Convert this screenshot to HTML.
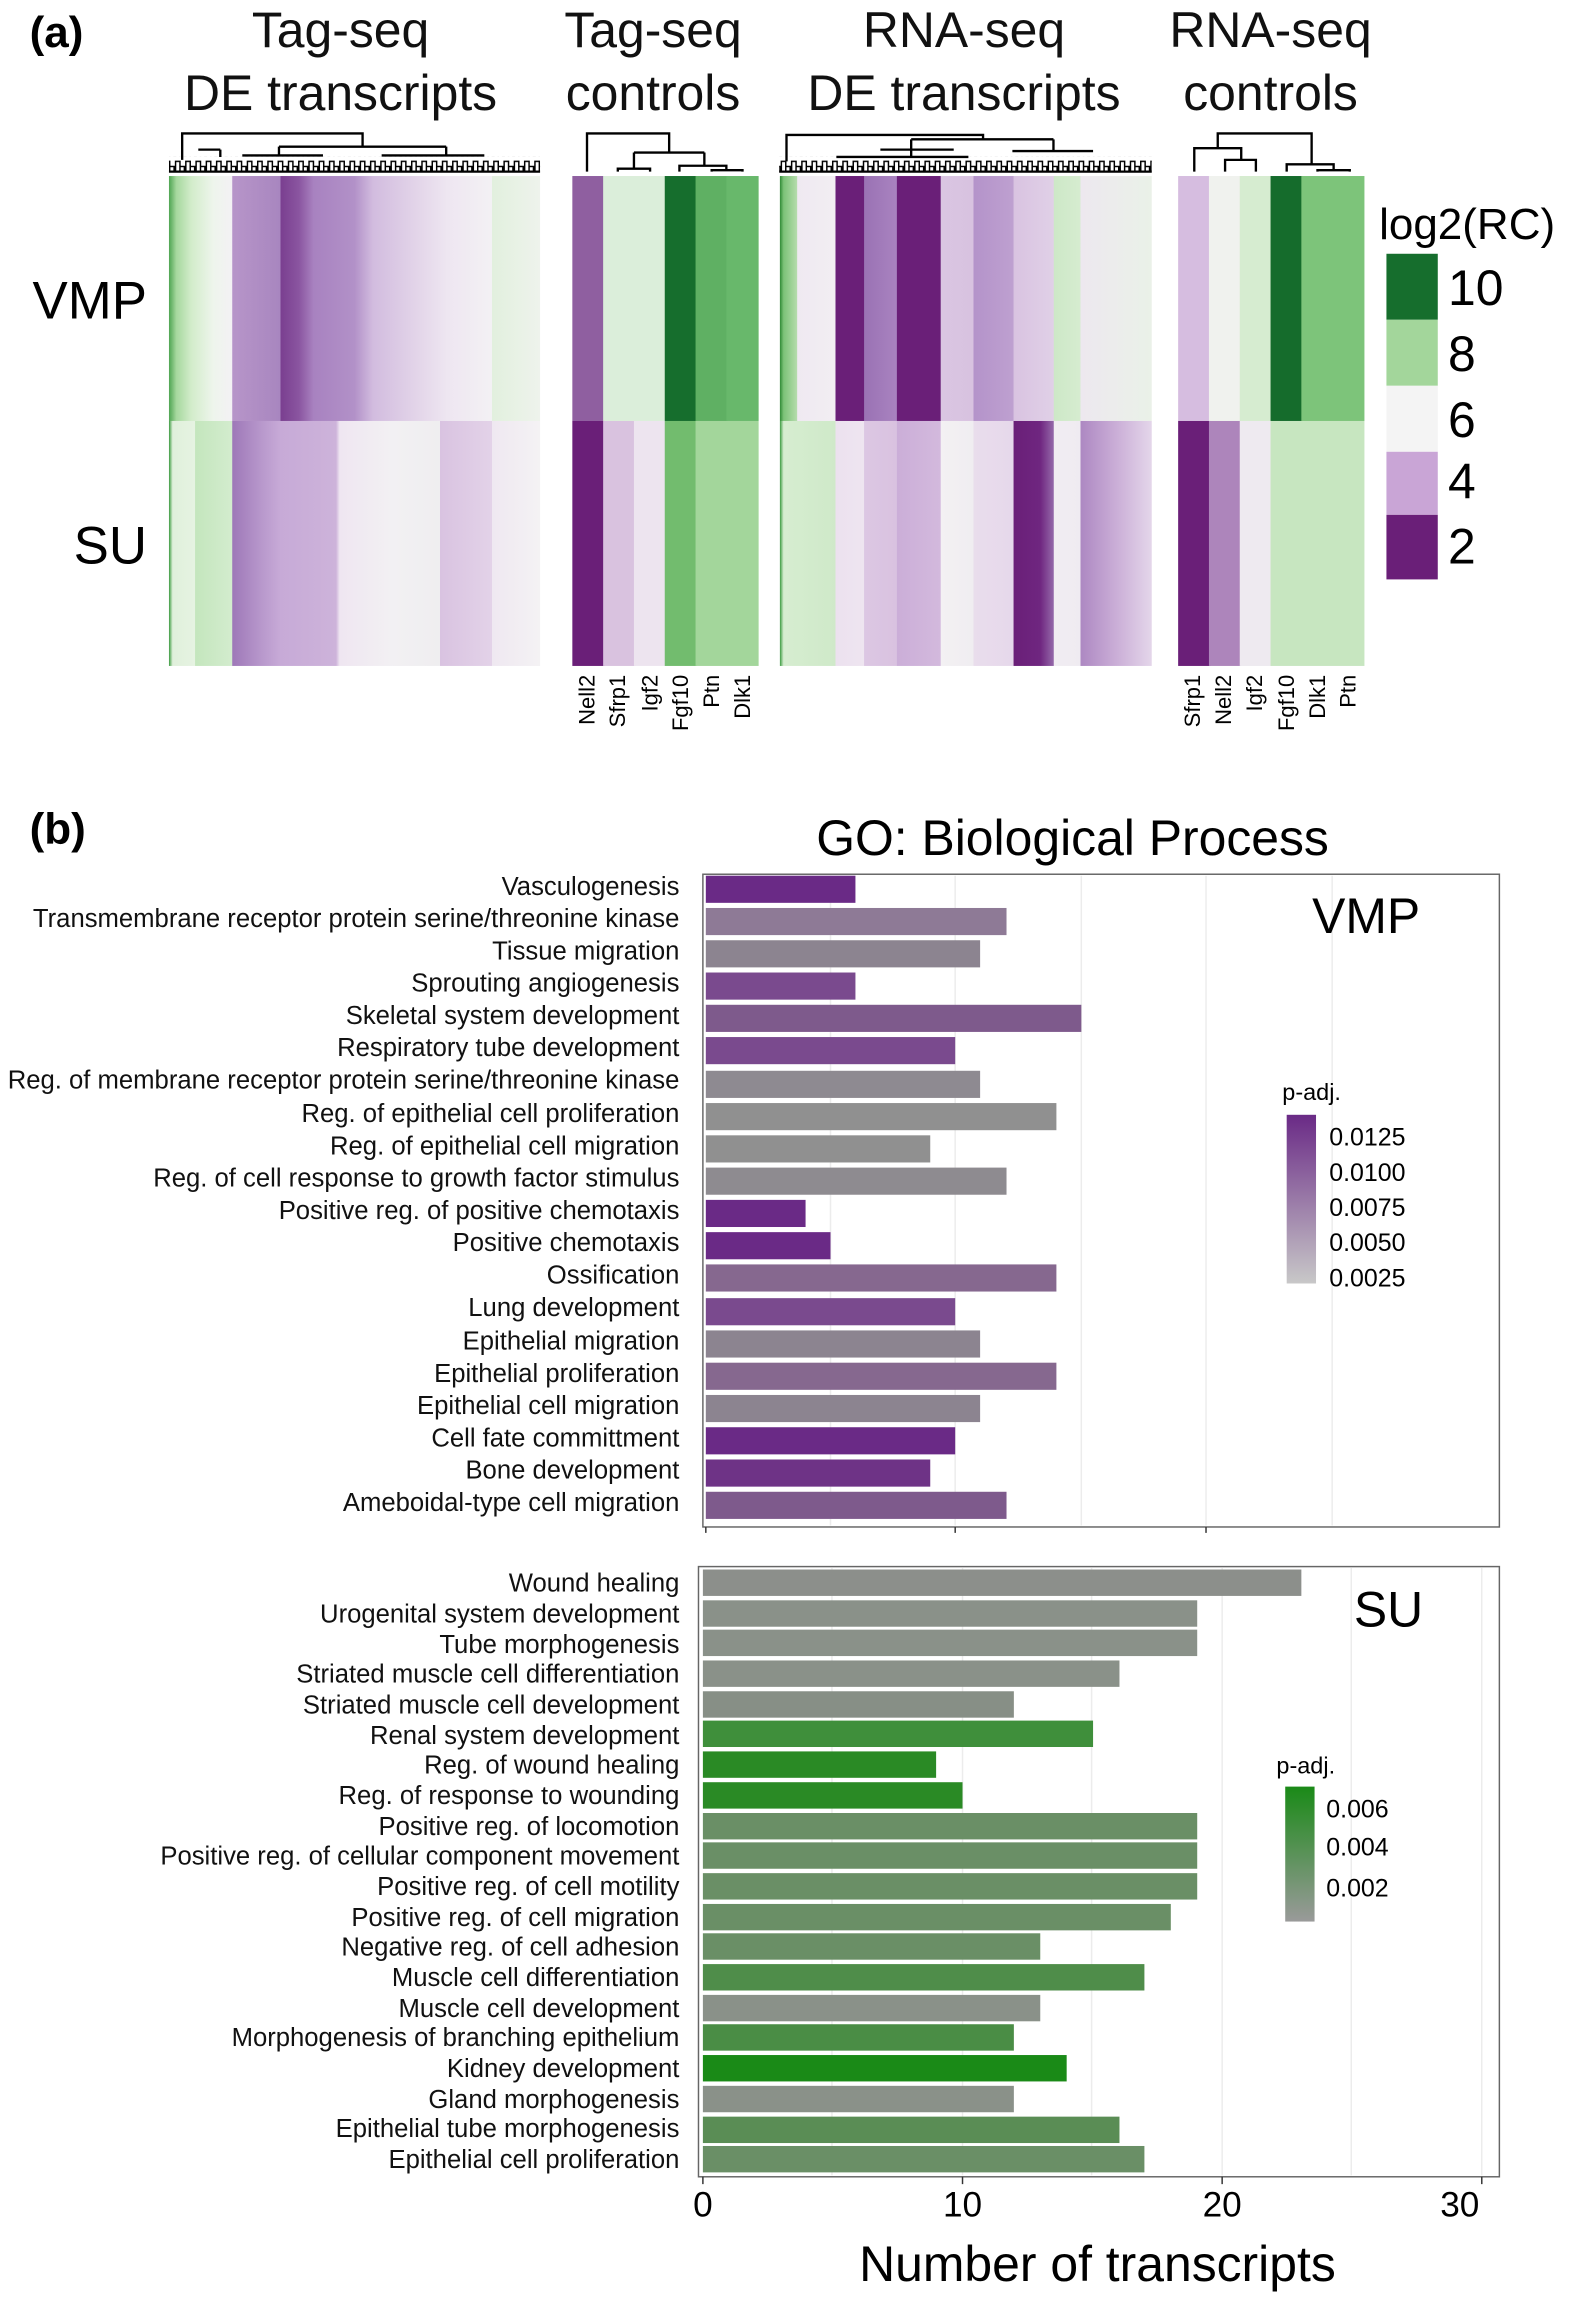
<!DOCTYPE html>
<html><head><meta charset="utf-8"><style>
html,body{margin:0;padding:0;background:#fff;}
svg{display:block;font-family:"Liberation Sans",Arial,sans-serif;}
</style></head><body>
<svg width="1595" height="2300" viewBox="0 0 1087 1568" xmlns="http://www.w3.org/2000/svg">
<defs>
<linearGradient id="v1"><stop offset="0" stop-color="#4fa552"/><stop offset="0.02" stop-color="#a6d89e"/><stop offset="0.06" stop-color="#d2ecca"/><stop offset="0.12" stop-color="#eef5ec"/><stop offset="0.17" stop-color="#f3f1f4"/><stop offset="0.171" stop-color="#b795c9"/><stop offset="0.3" stop-color="#a886bf"/><stop offset="0.301" stop-color="#7a3f90"/><stop offset="0.35" stop-color="#8a55a0"/><stop offset="0.39" stop-color="#a882c0"/><stop offset="0.5" stop-color="#b291c8"/><stop offset="0.55" stop-color="#d2bcdf"/><stop offset="0.67" stop-color="#e3d5e9"/><stop offset="0.75" stop-color="#eee6f1"/><stop offset="0.87" stop-color="#f3f1f4"/><stop offset="0.871" stop-color="#e2f0de"/><stop offset="1" stop-color="#eef3ec"/></linearGradient>
<linearGradient id="s1"><stop offset="0" stop-color="#3a9a3e"/><stop offset="0.01" stop-color="#e0f0db"/><stop offset="0.07" stop-color="#e6f3e2"/><stop offset="0.071" stop-color="#c4e6bd"/><stop offset="0.17" stop-color="#d3ecce"/><stop offset="0.171" stop-color="#9e78b8"/><stop offset="0.25" stop-color="#b898cc"/><stop offset="0.3" stop-color="#c7aad7"/><stop offset="0.45" stop-color="#cdb3da"/><stop offset="0.46" stop-color="#efe6f1"/><stop offset="0.6" stop-color="#f2f0f3"/><stop offset="0.73" stop-color="#efeef0"/><stop offset="0.731" stop-color="#d9c3e1"/><stop offset="0.87" stop-color="#e3d2e8"/><stop offset="0.871" stop-color="#efe8f1"/><stop offset="1" stop-color="#f4f2f4"/></linearGradient>
<linearGradient id="v3"><stop offset="0" stop-color="#2f8a35"/><stop offset="0.01" stop-color="#7cc278"/><stop offset="0.046" stop-color="#b5dcac"/><stop offset="0.047" stop-color="#efe9f1"/><stop offset="0.149" stop-color="#f2eef3"/><stop offset="0.15" stop-color="#6a1f78"/><stop offset="0.226" stop-color="#6a1f78"/><stop offset="0.227" stop-color="#9a72b4"/><stop offset="0.314" stop-color="#a983c0"/><stop offset="0.315" stop-color="#6a1f78"/><stop offset="0.432" stop-color="#6a1f78"/><stop offset="0.433" stop-color="#dac6e2"/><stop offset="0.52" stop-color="#d8c2e0"/><stop offset="0.521" stop-color="#b493ca"/><stop offset="0.628" stop-color="#bea0d0"/><stop offset="0.629" stop-color="#d9c3e1"/><stop offset="0.736" stop-color="#e0d0e7"/><stop offset="0.737" stop-color="#cde8c7"/><stop offset="0.808" stop-color="#d6ecd0"/><stop offset="0.809" stop-color="#ede8ef"/><stop offset="1" stop-color="#eaf1e8"/></linearGradient>
<linearGradient id="s3"><stop offset="0" stop-color="#3a9a3e"/><stop offset="0.01" stop-color="#d6edd0"/><stop offset="0.149" stop-color="#cfe9c9"/><stop offset="0.15" stop-color="#ece1ef"/><stop offset="0.226" stop-color="#eee5f0"/><stop offset="0.227" stop-color="#dcc7e3"/><stop offset="0.314" stop-color="#d9c2e0"/><stop offset="0.315" stop-color="#cbaed8"/><stop offset="0.432" stop-color="#d3b9dd"/><stop offset="0.433" stop-color="#f3f1f3"/><stop offset="0.52" stop-color="#f0edf1"/><stop offset="0.521" stop-color="#e9ddec"/><stop offset="0.628" stop-color="#e6d8eb"/><stop offset="0.629" stop-color="#6a1f78"/><stop offset="0.7" stop-color="#6f2680"/><stop offset="0.736" stop-color="#9468a9"/><stop offset="0.737" stop-color="#f1edf2"/><stop offset="0.808" stop-color="#efebf1"/><stop offset="0.809" stop-color="#ad88c2"/><stop offset="0.9" stop-color="#c9acd6"/><stop offset="1" stop-color="#e4d6ea"/></linearGradient>
<linearGradient id="pp" x1="0" y1="0" x2="0" y2="1"><stop offset="0" stop-color="#6a2a86"/><stop offset="1" stop-color="#c8c8c8"/></linearGradient>
<linearGradient id="pg" x1="0" y1="0" x2="0" y2="1"><stop offset="0" stop-color="#1a8a17"/><stop offset="1" stop-color="#9a9a9a"/></linearGradient>
<pattern id="jg" x="0" y="107" width="7" height="10" patternUnits="userSpaceOnUse"><path d="M0.5,10V3H3.5V10M3.5,10V6.5H6.5V10" fill="none" stroke="#000" stroke-width="1"/></pattern>
</defs>

<text x="20" y="32" font-size="30" font-weight="bold">(a)</text>
<g font-size="34" text-anchor="middle" fill="#111">
<text x="232" y="32">Tag-seq</text><text x="232" y="75">DE transcripts</text>
<text x="445" y="32">Tag-seq</text><text x="445" y="75">controls</text>
<text x="657" y="32">RNA-seq</text><text x="657" y="75">DE transcripts</text>
<text x="866" y="32">RNA-seq</text><text x="866" y="75">controls</text>
</g>
<text x="22" y="217" font-size="36">VMP</text>
<text x="50" y="384" font-size="36">SU</text>

<rect x="115" y="120" width="253" height="167" fill="url(#v1)"/>
<rect x="115" y="287" width="253" height="167" fill="url(#s1)"/>
<rect x="531.5" y="120" width="253.5" height="167" fill="url(#v3)"/>
<rect x="531.5" y="287" width="253.5" height="167" fill="url(#s3)"/>

<rect x="390" y="120" width="22" height="167" fill="#8f5fa0"/><rect x="411" y="120" width="43" height="167" fill="#dbeeda"/><rect x="453" y="120" width="22" height="167" fill="#166e2d"/><rect x="474" y="120" width="22" height="167" fill="#5fb063"/><rect x="495" y="120" width="22" height="167" fill="#68b86b"/>
<rect x="390" y="287" width="22" height="167" fill="#6a1f78"/><rect x="411" y="287" width="22" height="167" fill="#d9c2df"/><rect x="432" y="287" width="22" height="167" fill="#ede4ef"/><rect x="453" y="287" width="22" height="167" fill="#72bc6e"/><rect x="474" y="287" width="43" height="167" fill="#a3d69b"/>
<rect x="803" y="120" width="22" height="167" fill="#d6bde0"/><rect x="824" y="120" width="22" height="167" fill="#f0f2ee"/><rect x="845" y="120" width="22" height="167" fill="#d6ecd0"/><rect x="866" y="120" width="22" height="167" fill="#156c2c"/><rect x="887" y="120" width="43" height="167" fill="#7dc47a"/>
<rect x="803" y="287" width="22" height="167" fill="#6a1f78"/><rect x="824" y="287" width="22" height="167" fill="#ad85bb"/><rect x="845" y="287" width="22" height="167" fill="#eeeaf0"/><rect x="866" y="287" width="64" height="167" fill="#c7e6c0"/>

<rect x="115" y="107" width="253" height="10" fill="url(#jg)"/>
<rect x="531" y="107" width="254" height="10" fill="url(#jg)"/>
<g fill="none" stroke="#000" stroke-width="1.6">
<path d="M400,117V91H456V104 M432,104H480 M432,104V115 M421,117V115H443V117 M480,104V113 M463,117V113H495V116 M485,117V116H506V117"/>
<path d="M814,117V101H846V109 M830,101V91H894V112 M835,117V109H856V117 M877,117V112H909V116 M898,117V116H920V117"/>
<path d="M124,109V91H247V100 M190,100H304 M304,100V106 M190,100V106 M165,106H220 M260,106H330 M135,102H150 M150,102V107 M115,117H368"/>
<path d="M536,110V92H670V95 M621,95H718 M621,95V107 M718,95V103 M690,103H745 M570,107H660 M600,102H650 M531,117H785"/>
</g>

<g font-size="15" text-anchor="end">
<text transform="translate(405,460) rotate(-90)">Nell2</text>
<text transform="translate(426,460) rotate(-90)">Sfrp1</text>
<text transform="translate(448,460) rotate(-90)">Igf2</text>
<text transform="translate(469,460) rotate(-90)">Fgf10</text>
<text transform="translate(490,460) rotate(-90)">Ptn</text>
<text transform="translate(511,460) rotate(-90)">Dlk1</text>
<text transform="translate(818,460) rotate(-90)">Sfrp1</text>
<text transform="translate(839,460) rotate(-90)">Nell2</text>
<text transform="translate(860,460) rotate(-90)">Igf2</text>
<text transform="translate(882,460) rotate(-90)">Fgf10</text>
<text transform="translate(903,460) rotate(-90)">Dlk1</text>
<text transform="translate(924,460) rotate(-90)">Ptn</text>
</g>

<text x="940" y="163" font-size="30">log2(RC)</text>
<rect x="945" y="173" width="35" height="45" fill="#166e2d"/>
<rect x="945" y="218" width="35" height="45" fill="#a3d69b"/>
<rect x="945" y="263" width="35" height="45" fill="#f4f4f4"/>
<rect x="945" y="308" width="35" height="43" fill="#c9a5d6"/>
<rect x="945" y="351" width="35" height="44" fill="#6a1f78"/>
<g font-size="34"><text x="987" y="208">10</text><text x="987" y="253">8</text><text x="987" y="298">6</text><text x="987" y="340">4</text><text x="987" y="384">2</text></g>

<text x="20" y="575" font-size="30" font-weight="bold">(b)</text>
<text x="731" y="583" font-size="34" text-anchor="middle">GO: Biological Process</text>

<rect x="479" y="596" width="543" height="445" fill="#fff" stroke="#666" stroke-width="1"/>
<rect x="476" y="1068" width="546" height="416" fill="#fff" stroke="#666" stroke-width="1"/>
<g stroke="#ececec" stroke-width="1">
<path d="M651,597V1040 M822,597V1040 M566,597V1040 M737,597V1040 M908,597V1040"/>
<path d="M656,1069V1483 M833,1069V1483 M1010,1069V1483 M567,1069V1483 M744,1069V1483 M921,1069V1483"/>
</g>
<g>
<rect x="481" y="597" width="102" height="18.5" fill="#6a2a86"/>
<rect x="481" y="619" width="205" height="18.5" fill="#8e7a96"/>
<rect x="481" y="641" width="187" height="18.5" fill="#8c8490"/>
<rect x="481" y="663" width="102" height="18.5" fill="#7a4a8e"/>
<rect x="481" y="685" width="256" height="18.5" fill="#7e5a8c"/>
<rect x="481" y="707" width="170" height="18.5" fill="#7a4a8e"/>
<rect x="481" y="730" width="187" height="18.5" fill="#8e8a91"/>
<rect x="481" y="752" width="239" height="18.5" fill="#909090"/>
<rect x="481" y="774" width="153" height="18.5" fill="#909090"/>
<rect x="481" y="796" width="205" height="18.5" fill="#8e8b90"/>
<rect x="481" y="818" width="68" height="18.5" fill="#6a2a86"/>
<rect x="481" y="840" width="85" height="18.5" fill="#6a2a86"/>
<rect x="481" y="862" width="239" height="18.5" fill="#86688f"/>
<rect x="481" y="885" width="170" height="18.5" fill="#7a4a8e"/>
<rect x="481" y="907" width="187" height="18.5" fill="#8c8490"/>
<rect x="481" y="929" width="239" height="18.5" fill="#86688f"/>
<rect x="481" y="951" width="187" height="18.5" fill="#8c8490"/>
<rect x="481" y="973" width="170" height="18.5" fill="#6a2a86"/>
<rect x="481" y="995" width="153" height="18.5" fill="#6e3386"/>
<rect x="481" y="1017" width="205" height="18.5" fill="#7e5a8c"/>
</g>
<g>
<rect x="479" y="1070" width="408" height="18" fill="#8c8f8b"/>
<rect x="479" y="1091" width="337" height="18" fill="#8a9189"/>
<rect x="479" y="1111" width="337" height="18" fill="#8a9189"/>
<rect x="479" y="1132" width="284" height="18" fill="#8a9189"/>
<rect x="479" y="1153" width="212" height="18" fill="#878f86"/>
<rect x="479" y="1173" width="266" height="18" fill="#3f8f3b"/>
<rect x="479" y="1194" width="159" height="18" fill="#2a8a25"/>
<rect x="479" y="1215" width="177" height="18" fill="#2a8a25"/>
<rect x="479" y="1236" width="337" height="18" fill="#6a8f66"/>
<rect x="479" y="1256" width="337" height="18" fill="#6a8f66"/>
<rect x="479" y="1277" width="337" height="18" fill="#6a8f66"/>
<rect x="479" y="1298" width="319" height="18" fill="#6a8f66"/>
<rect x="479" y="1318" width="230" height="18" fill="#6a8f66"/>
<rect x="479" y="1339" width="301" height="18" fill="#4f8d4a"/>
<rect x="479" y="1360" width="230" height="18" fill="#8a9189"/>
<rect x="479" y="1380" width="212" height="18" fill="#4a8d45"/>
<rect x="479" y="1401" width="248" height="18" fill="#1a8a17"/>
<rect x="479" y="1422" width="212" height="18" fill="#8a9189"/>
<rect x="479" y="1443" width="284" height="18" fill="#5a8d55"/>
<rect x="479" y="1463" width="301" height="18" fill="#6a8f66"/>
</g>
<g font-size="17.5" text-anchor="end" fill="#111">
<text x="463" y="610">Vasculogenesis</text>
<text x="463" y="632">Transmembrane receptor protein serine/threonine kinase</text>
<text x="463" y="654">Tissue migration</text>
<text x="463" y="676">Sprouting angiogenesis</text>
<text x="463" y="698">Skeletal system development</text>
<text x="463" y="720">Respiratory tube development</text>
<text x="463" y="742">Reg. of membrane receptor protein serine/threonine kinase</text>
<text x="463" y="765">Reg. of epithelial cell proliferation</text>
<text x="463" y="787">Reg. of epithelial cell migration</text>
<text x="463" y="809">Reg. of cell response to growth factor stimulus</text>
<text x="463" y="831">Positive reg. of positive chemotaxis</text>
<text x="463" y="853">Positive chemotaxis</text>
<text x="463" y="875">Ossification</text>
<text x="463" y="897">Lung development</text>
<text x="463" y="920">Epithelial migration</text>
<text x="463" y="942">Epithelial proliferation</text>
<text x="463" y="964">Epithelial cell migration</text>
<text x="463" y="986">Cell fate committment</text>
<text x="463" y="1008">Bone development</text>
<text x="463" y="1030">Ameboidal-type cell migration</text>
</g>
<g font-size="17.5" text-anchor="end" fill="#111">
<text x="463" y="1085">Wound healing</text>
<text x="463" y="1106">Urogenital system development</text>
<text x="463" y="1127">Tube morphogenesis</text>
<text x="463" y="1147">Striated muscle cell differentiation</text>
<text x="463" y="1168">Striated muscle cell development</text>
<text x="463" y="1189">Renal system development</text>
<text x="463" y="1209">Reg. of wound healing</text>
<text x="463" y="1230">Reg. of response to wounding</text>
<text x="463" y="1251">Positive reg. of locomotion</text>
<text x="463" y="1271">Positive reg. of cellular component movement</text>
<text x="463" y="1292">Positive reg. of cell motility</text>
<text x="463" y="1313">Positive reg. of cell migration</text>
<text x="463" y="1333">Negative reg. of cell adhesion</text>
<text x="463" y="1354">Muscle cell differentiation</text>
<text x="463" y="1375">Muscle cell development</text>
<text x="463" y="1395">Morphogenesis of branching epithelium</text>
<text x="463" y="1416">Kidney development</text>
<text x="463" y="1437">Gland morphogenesis</text>
<text x="463" y="1457">Epithelial tube morphogenesis</text>
<text x="463" y="1478">Epithelial cell proliferation</text>
</g>
<text x="968" y="636" font-size="34" text-anchor="end">VMP</text>
<text x="970" y="1109" font-size="34" text-anchor="end">SU</text>

<path d="M481,1041v4 M651,1041v4 M822,1041v4" stroke="#333"/>
<path d="M479,1484v5 M656,1484v5 M833,1484v5 M1010,1484v5" stroke="#333"/>
<g font-size="24" text-anchor="middle"><text x="479" y="1511">0</text><text x="656" y="1511">10</text><text x="833" y="1511">20</text><text x="995" y="1511">30</text></g>
<text x="748" y="1555" font-size="34" text-anchor="middle">Number of transcripts</text>

<text x="874" y="750" font-size="16">p-adj.</text>
<rect x="877" y="760" width="20" height="115" fill="url(#pp)"/>
<g font-size="17"><text x="906" y="781">0.0125</text><text x="906" y="805">0.0100</text><text x="906" y="829">0.0075</text><text x="906" y="853">0.0050</text><text x="906" y="877">0.0025</text></g>
<text x="870" y="1209" font-size="16">p-adj.</text>
<rect x="876" y="1218" width="20" height="92" fill="url(#pg)"/>
<g font-size="17"><text x="904" y="1239">0.006</text><text x="904" y="1265">0.004</text><text x="904" y="1293">0.002</text></g>
</svg>
</body></html>
